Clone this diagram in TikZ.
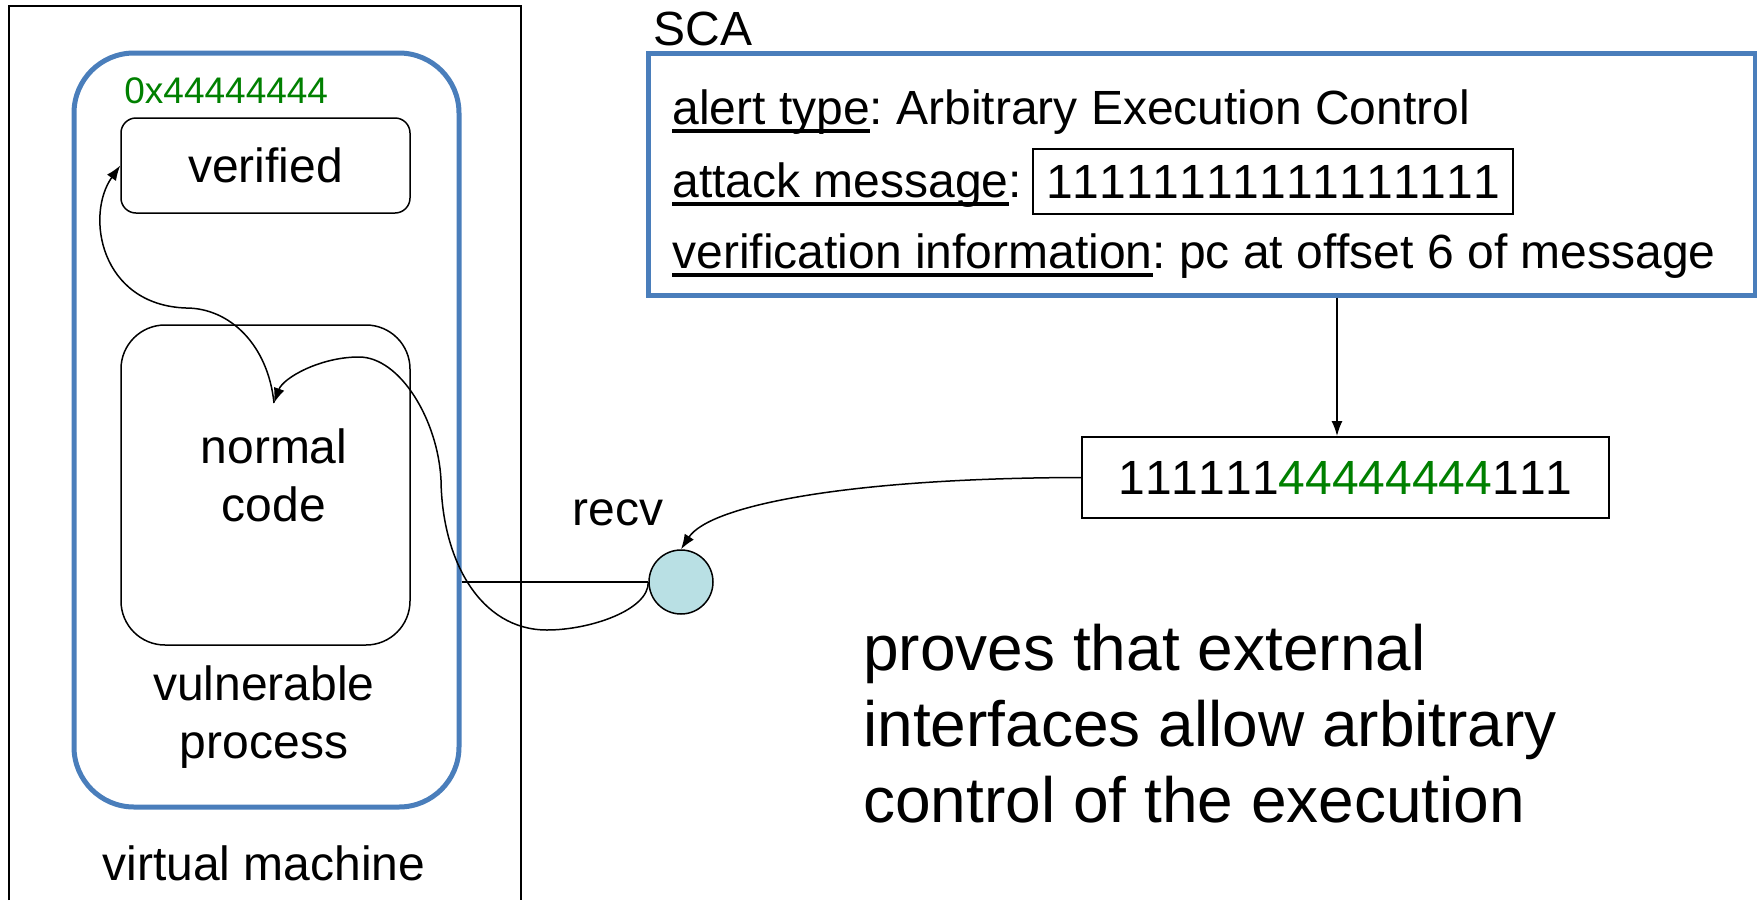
\documentclass[tikz,border=0pt]{standalone}
\usepackage{fontspec}
\setmainfont{Liberation Sans}[Kerning=Off]
\usetikzlibrary{arrows.meta}
\definecolor{scablue}{HTML}{4A7EBB}
\definecolor{scagreen}{HTML}{008000}
\definecolor{scacyan}{HTML}{B9E0E4}
\newcommand{\ulab}[1]{\setbox0\hbox{#1}\rlap{\rule[-4.3pt]{\wd0}{1.7pt}}\box0}
\frenchspacing

\begin{document}
\begin{tikzpicture}[x=0.5pt, y=-0.5pt,
        every node/.style={font=\fontsize{24}{29}\selectfont, inner sep=0pt},
        rbox/.style={draw, line width=0.75pt, minimum width=144.5pt, align=center},
        blu/.style={draw=scablue, line width=2.5pt},
        sq/.style={draw, line width=1pt},
        arr/.style={-{Latex[length=7.5pt,width=5.5pt]}, line width=0.75pt},
        lbl/.style={anchor=base west},
      ]
      \useasboundingbox (0,0) rectangle (1757,900);
      % virtual machine
      \draw[line width=0.6pt] (9,900) -- (9,6) -- (521,6) -- (521,900);
      \node (vm) at (264,863) {virtual machine};
      \node[blu, rounded corners=30pt, minimum width=192.5pt, minimum height=377pt] (proc) at (266.5,430) {};
      \node[lbl, text=scagreen, font=\fontsize{18.5}{22}\selectfont] (addr) at (124,103) {0x44444444};
      \node[rbox, rounded corners=7.5pt, minimum height=47.5pt] (ver) at (265.5,165.5) {verified};
      \node[rbox, rounded corners=22pt, minimum height=160pt] (code) at (265.5,485) {};
      \node[align=center] (codetxt) at (274,475) {normal\\code};
      \node[align=center] (vp) at (264,717) {vulnerable\\process};
      % recv
      \node[circle, draw, fill=scacyan, line width=0.75pt, minimum size=32pt] (rc) at (681,582) {};
      \node[anchor=base] (rl) at (618,525) {recv};
      \draw[line width=0.75pt] (proc.east |- rc.west) -- (rc.west);
      \coordinate (jmp) at (274,403);
      \draw[arr] (rc.west) .. controls (649,610) and (590,630) .. (547,630)
        .. controls (480,630) and (442,560) .. (441,480)
        .. controls (438,420) and (400,357) .. (359,357)
        .. controls (320,357) and (283,378) .. (jmp);
      \draw[arr] (jmp) .. controls (268,345) and (230,308) .. (186,308)
        .. controls (100,305) and (85,215) .. (ver.west);
      % SCA
      \node[lbl] (scal) at (653,45) {SCA};
      \node[blu, minimum width=553.5pt, minimum height=121pt] (sca) at (1201.5,174) {};
      \node[lbl] (l1) at (672,124) {\ulab{alert type}: Arbitrary Execution Control};
      \node[lbl] (l2) at (672,197) {\ulab{attack message}:};
      \node[sq, minimum width=240pt, minimum height=32.5pt] (atk) at (1273,181.5) {11111111111111111};
      \node[lbl] (l3) at (672,268) {\ulab{verification information}: pc at offset 6 of message};
      \node[sq, minimum width=263.5pt, minimum height=40.5pt] (msg) at (1345.5,477.5) {111111\textcolor{scagreen}{44444444}111};
      \draw[arr] ([xshift=-4.25pt]msg.north |- sca.south) -- ([xshift=-4.25pt]msg.north);
      \draw[arr] (msg.west) .. controls (850,478) and (710,505) .. (rc.north);
      \node[anchor=north west, align=left, font=\fontsize{32}{38}\selectfont] (claim) at (863,624)
        {proves that external\\interfaces allow arbitrary\\control of the execution};
    \end{tikzpicture}
\end{document}
